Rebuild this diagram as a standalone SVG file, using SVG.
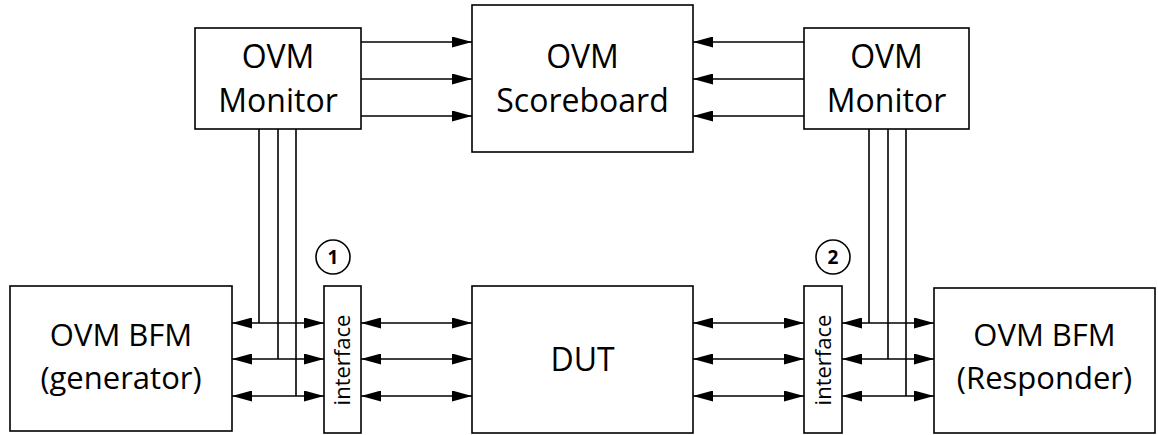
<svg xmlns="http://www.w3.org/2000/svg" width="1158" height="435" viewBox="0 0 1158 435">
<style>
.box{fill:#fff;stroke:#000;stroke-width:1.6}
.t{font-family:"Open Sans","Liberation Sans",sans-serif;font-size:32px;fill:#000;text-anchor:middle}
.tb{font-family:"Open Sans","Liberation Sans",sans-serif;font-size:31px;fill:#000;text-anchor:middle}
.it{font-family:"Open Sans","Liberation Sans",sans-serif;font-size:22px;fill:#000;text-anchor:middle}
.n{font-family:"Open Sans","Liberation Sans",sans-serif;font-size:19px;font-weight:bold;fill:#000;text-anchor:middle}
.c{stroke:#000;stroke-width:1.6;fill:none}
.a{marker-end:url(#ah)}
.b{marker-start:url(#ah);marker-end:url(#ah)}
</style>
<defs>
<marker id="ah" viewBox="0 0 20 11" refX="20" refY="5.5" markerWidth="20" markerHeight="11" markerUnits="userSpaceOnUse" orient="auto-start-reverse"><path d="M0,0 L20,5.5 L0,11 z" fill="#000"/></marker>
</defs>
<rect width="1158" height="435" fill="#fff"/>
<g id="connectors">
<line class="c a" x1="361" y1="42" x2="472" y2="42"/>
<line class="c a" x1="361" y1="79" x2="472" y2="79"/>
<line class="c a" x1="361" y1="116" x2="472" y2="116"/>
<line class="c a" x1="804" y1="42" x2="693" y2="42"/>
<line class="c a" x1="804" y1="79" x2="693" y2="79"/>
<line class="c a" x1="804" y1="116" x2="693" y2="116"/>
<line class="c" x1="259" y1="129" x2="259" y2="323"/>
<line class="c" x1="278" y1="129" x2="278" y2="359"/>
<line class="c" x1="296" y1="129" x2="296" y2="396"/>
<line class="c" x1="869" y1="129" x2="869" y2="323"/>
<line class="c" x1="888" y1="129" x2="888" y2="359"/>
<line class="c" x1="906" y1="129" x2="906" y2="396"/>
<line class="c b" x1="232" y1="323" x2="324" y2="323"/>
<line class="c b" x1="232" y1="359" x2="324" y2="359"/>
<line class="c b" x1="232" y1="396" x2="324" y2="396"/>
<line class="c b" x1="361" y1="323" x2="472" y2="323"/>
<line class="c b" x1="361" y1="359" x2="472" y2="359"/>
<line class="c b" x1="361" y1="396" x2="472" y2="396"/>
<line class="c b" x1="693" y1="323" x2="804" y2="323"/>
<line class="c b" x1="693" y1="359" x2="804" y2="359"/>
<line class="c b" x1="693" y1="396" x2="804" y2="396"/>
<line class="c b" x1="842" y1="323" x2="934" y2="323"/>
<line class="c b" x1="842" y1="359" x2="934" y2="359"/>
<line class="c b" x1="842" y1="396" x2="934" y2="396"/>
</g>
<g id="monitor1">
<rect class="box" x="195" y="28" width="166" height="101"/>
<text class="t" x="278" y="68">OVM</text>
<text class="t" x="278" y="112">Monitor</text>
</g>
<g id="scoreboard">
<rect class="box" x="472" y="5" width="221" height="147"/>
<text class="t" x="582.5" y="68">OVM</text>
<text class="t" x="582.5" y="112">Scoreboard</text>
</g>
<g id="monitor2">
<rect class="box" x="804" y="28" width="165" height="101"/>
<text class="t" x="886.5" y="68">OVM</text>
<text class="t" x="886.5" y="112">Monitor</text>
</g>
<g id="bfm1">
<rect class="box" x="10" y="286" width="222" height="145"/>
<text class="tb" x="121" y="346">OVM BFM</text>
<text class="tb" x="121" y="389">(generator)</text>
</g>
<g id="interface1">
<rect class="box" x="324" y="286" width="37" height="147"/>
<text class="it" transform="translate(350,360) rotate(-90)">interface</text>
</g>
<g id="badge1">
<circle cx="333" cy="257" r="17" fill="#fff" stroke="#000" stroke-width="1.6"/>
<text class="n" x="333" y="264">1</text>
</g>
<g id="dut">
<rect class="box" x="472" y="286" width="221" height="147"/>
<text class="t" x="582.5" y="371">DUT</text>
</g>
<g id="interface2">
<rect class="box" x="804" y="286" width="38" height="147"/>
<text class="it" transform="translate(831,360) rotate(-90)">interface</text>
</g>
<g id="badge2">
<circle cx="833" cy="257" r="17" fill="#fff" stroke="#000" stroke-width="1.6"/>
<text class="n" x="833" y="264">2</text>
</g>
<g id="bfm2">
<rect class="box" x="934" y="288" width="221" height="145"/>
<text class="tb" x="1044.5" y="346">OVM BFM</text>
<text class="tb" x="1044.5" y="389">(Responder)</text>
</g>
</svg>
